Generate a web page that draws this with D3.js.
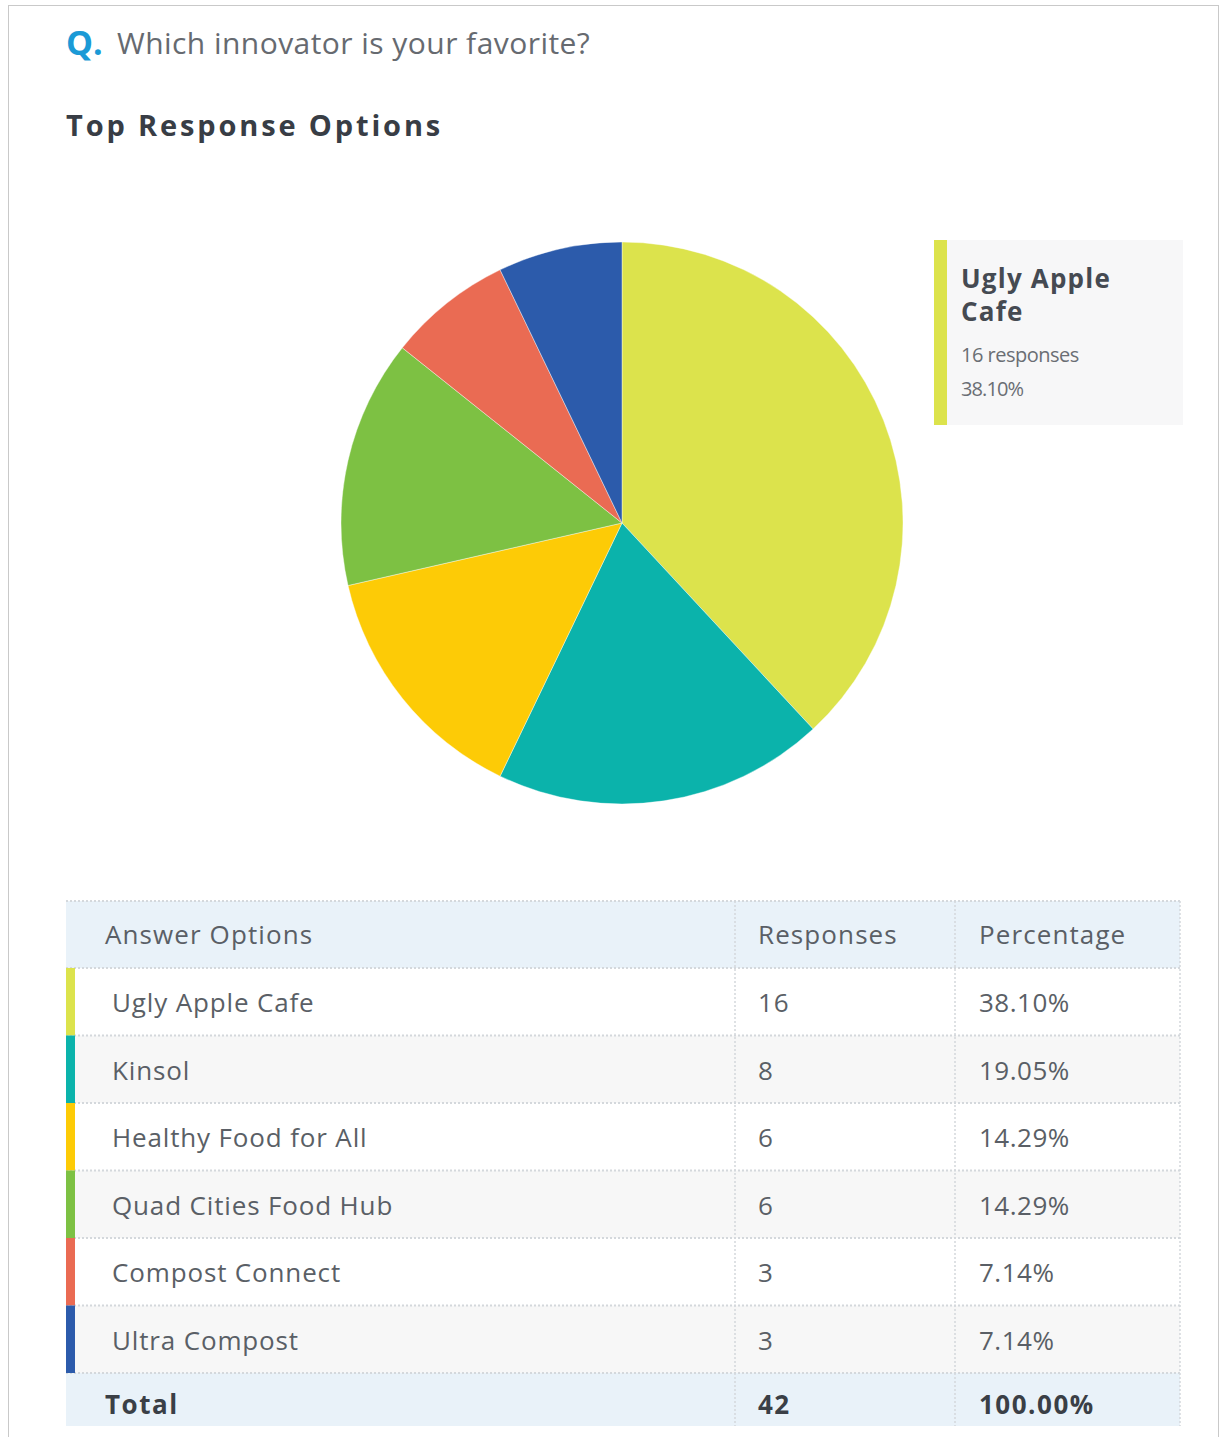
<!DOCTYPE html>
<html>
<head>
<meta charset="utf-8">
<script src="https://cdn.jsdelivr.net/npm/d3@7"></script>
<style>
  body { margin: 0; background: #fff; }
  svg { display: block; font-family: "Open Sans", sans-serif; }
</style>
</head>
<body>
<div id="chart"></div>
<script>
(function () {

	var options = ['Ugly Apple Cafe', 'Kinsol', 'Healthy Food for All', 'Quad Cities Food Hub', 'Compost Connect', 'Ultra Compost'];
	var responses = [16, 8, 6, 6, 3, 3];
	var percents = ['38.10%', '19.05%', '14.29%', '14.29%', '7.14%', '7.14%'];
	var colors = ['#dce34c', '#0bb3ab', '#fdcb06', '#7dc143', '#ea6b53', '#2c5bab'];
	var headers = ['Answer Options', 'Responses', 'Percentage'];
	var total = ['Total', '42', '100.00%'];

	var W = 1221, H = 1437;
	var svg = d3.select('#chart').append('svg').attr('width', W).attr('height', H);

	// page frame
	svg.append('rect').attr('x', 8.5).attr('y', 5.5).attr('width', 1210).attr('height', 1440)
		.attr('fill', 'none').attr('stroke', '#c9c9c9');

	// question
	svg.append('text').attr('x', 66).attr('y', 55).text('Q.')
		.attr('fill', '#1b9ad6').attr('font-weight', 700).attr('font-size', 34);
	svg.append('text').attr('x', 117).attr('y', 54).text('Which innovator is your favorite?')
		.attr('fill', '#666a70').attr('font-size', 30).attr('letter-spacing', 0.45);

	svg.append('text').attr('x', 66).attr('y', 136).text('Top Response Options')
		.attr('font-weight', 700).attr('font-size', 29).attr('letter-spacing', 2.85).attr('fill', '#383d45');

	// pie
	var data = options.map(function (d, i) { return { name: d, value: responses[i], color: colors[i] }; });
	var pie = d3.pie().sort(null).value(function (d) { return d.value; });
	var arc = d3.arc().innerRadius(0).outerRadius(281);

	svg.append('g').attr('transform', 'translate(622,523)')
		.selectAll('path').data(pie(data)).enter()
		.append('path')
		.attr('d', arc)
		.attr('fill', function (d) { return d.data.color; })
		.attr('stroke', '#fff')
		.attr('stroke-width', 0.4);

	// tooltip-like legend box
	var lg = svg.append('g').attr('transform', 'translate(934,240)');
	lg.append('rect').attr('width', 249).attr('height', 185).attr('fill', '#f7f7f8');
	lg.append('rect').attr('width', 13).attr('height', 185).attr('fill', colors[0]);
	lg.append('text').attr('x', 27).attr('y', 48).text('Ugly Apple')
		.attr('font-weight', 700).attr('font-size', 26).attr('letter-spacing', 1.2).attr('fill', '#454a52');
	lg.append('text').attr('x', 27).attr('y', 81).text('Cafe')
		.attr('font-weight', 700).attr('font-size', 26).attr('letter-spacing', 1.2).attr('fill', '#454a52');
	lg.append('text').attr('x', 27).attr('y', 122).text(responses[0] + ' responses')
		.attr('font-size', 20).attr('letter-spacing', -0.5).attr('fill', '#6a6e74');
	lg.append('text').attr('x', 27).attr('y', 156).text(percents[0])
		.attr('font-size', 20).attr('letter-spacing', -0.9).attr('fill', '#6a6e74');

	// table
	var tx0 = 66, tx1 = 1180;
	var colX = [66, 735, 955, 1180];
	var textX = [105, 758, 979];
	var headTop = 901, headH = 67, rowH = 67.5, totalH = 53;
	var rowY = d3.scaleBand().domain(d3.range(options.length))
		.range([headTop + headH, headTop + headH + rowH * options.length]).padding(0);
	var totalTop = headTop + headH + rowH * options.length;
	var tb = svg.append('g');

	tb.append('rect').attr('x', tx0).attr('y', headTop).attr('width', tx1 - tx0).attr('height', headH).attr('fill', '#e9f2f9');
	tb.selectAll('.row').data(data).enter().append('rect')
		.attr('x', tx0).attr('y', function (d, i) { return rowY(i); })
		.attr('width', tx1 - tx0).attr('height', rowY.bandwidth())
		.attr('fill', function (d, i) { return i % 2 ? '#f7f7f7' : '#fff'; });
	tb.append('rect').attr('x', tx0).attr('y', totalTop).attr('width', tx1 - tx0).attr('height', totalH).attr('fill', '#e9f2f9');

	// grid lines
	var hLines = [headTop].concat(d3.range(options.length + 1).map(function (i) { return headTop + headH + rowH * i; }));
	tb.selectAll('.hl').data(hLines).enter().append('line')
		.attr('x1', tx0).attr('x2', tx1)
		.attr('y1', function (d) { return d; }).attr('y2', function (d) { return d; })
		.attr('stroke', '#d4d8dc').attr('stroke-width', 2).attr('stroke-dasharray', '2,2');
	tb.selectAll('.vl').data(colX.slice(1)).enter().append('line')
		.attr('x1', function (d) { return d; }).attr('x2', function (d) { return d; })
		.attr('y1', headTop).attr('y2', totalTop + totalH)
		.attr('stroke', '#d4d8dc').attr('stroke-width', 1.5).attr('stroke-dasharray', '2,2');

	// color markers
	tb.selectAll('.mk').data(data).enter().append('rect')
		.attr('x', tx0).attr('y', function (d, i) { return rowY(i); })
		.attr('width', 9).attr('height', rowY.bandwidth())
		.attr('fill', function (d) { return d.color; });

	// header text
	tb.selectAll('.ht').data(headers).enter().append('text')
		.attr('x', function (d, i) { return textX[i]; })
		.attr('y', headTop + 43)
		.text(function (d) { return d; })
		.attr('font-size', 26).attr('letter-spacing', 1.1).attr('fill', '#5a5f66');

	// rows
	var cells = tb.selectAll('.cell').data(data).enter().append('g')
		.attr('transform', function (d, i) { return 'translate(0,' + (rowY(i) + 44) + ')'; });
	cells.append('text').attr('x', 112).text(function (d) { return d.name; })
		.attr('font-size', 26).attr('letter-spacing', 0.85).attr('fill', '#5a5f66');
	cells.append('text').attr('x', textX[1]).text(function (d) { return d.value; })
		.attr('font-size', 26).attr('letter-spacing', 0.85).attr('fill', '#5a5f66');
	cells.append('text').attr('x', textX[2]).text(function (d, i) { return percents[i]; })
		.attr('font-size', 26).attr('letter-spacing', 0.5).attr('fill', '#5a5f66');

	// total
	tb.selectAll('.tt').data(total).enter().append('text')
		.attr('x', function (d, i) { return textX[i]; })
		.attr('y', totalTop + 41)
		.text(function (d) { return d; })
		.attr('font-size', 26).attr('font-weight', 700).attr('letter-spacing', 1.5).attr('fill', '#3a3f46');

})();
</script>
</body>
</html>
